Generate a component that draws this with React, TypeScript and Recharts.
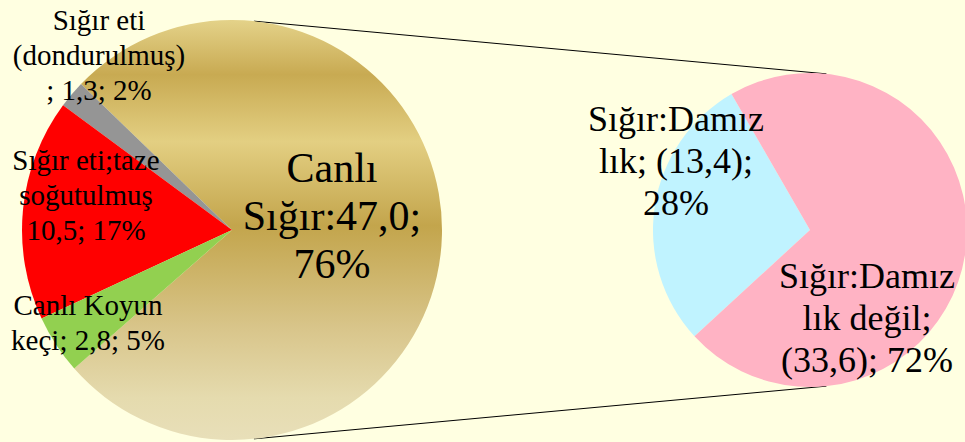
import React from 'react';
import { PieChart, Pie, Cell, Customized } from 'recharts';

// Left pie: cattle & small ruminant imports
const mainNames = ['Canlı Sığır', 'Sığır eti (dondurulmuş)', 'Sığır eti;taze soğutulmuş', 'Canlı Koyun keçi'];
const mainValues = [47.0, 1.3, 10.5, 2.8];
const mainLabels = [
  ['Canlı', 'Sığır:47,0;', '76%'],
  ['Sığır eti', '(dondurulmuş)', '; 1,3; 2%'],
  ['Sığır eti;taze', 'soğutulmuş', '10,5; 17%'],
  ['Canlı Koyun', 'keçi; 2,8; 5%']
];

// Right pie: breakdown of live cattle
const subNames = ['Sığır:Damızlık', 'Sığır:Damızlık değil'];
const subValues = [13.4, 33.6];
const subLabels = [
  ['Sığır:Damız', 'lık; (13,4);', '28%'],
  ['Sığır:Damız', 'lık değil;', '(33,6); 72%']
];

const mainData = mainNames.map((name, i) => ({ name, value: mainValues[i], lines: mainLabels[i] }));
const subData = subNames.map((name, i) => ({ name, value: subValues[i], lines: subLabels[i] }));

const W = 965;
const H = 442;
const BG = '#FFFFE1';
const FONT = '"Liberation Serif", "Times New Roman", serif';

const LEFT = { cx: 232, cy: 230, r: 210 };
const RIGHT = { cx: 810, cy: 230, r: 157 };

const mainColors = ['url(#goldFill)', '#959595', '#FF0000', '#92D050'];
const subColors = ['#C0F3FF', '#FFB3C4'];

// label placement relative to pie centre (middle baseline), font size, line height
const mainLabelStyle = [
  { dx: 100, dy: 0, size: 42, lh: 48 },
  { dx: -133, dy: -165, size: 29, lh: 35 },
  { dx: -146, dy: -25, size: 29, lh: 35 },
  { dx: -144, dy: 102, size: 29, lh: 35 }
];
const subLabelStyle = [
  { dx: -134, dy: -57, size: 36, lh: 42 },
  { dx: 57, dy: 100, size: 36, lh: 42 }
];

const makeLabel = (styles: typeof mainLabelStyle) => (props: any) => {
  const { cx, cy, index, payload } = props;
  const s = styles[index];
  const lines: string[] = payload.lines ?? payload.payload?.lines ?? [];
  const x = cx + s.dx;
  const y = cy + s.dy;
  const firstDy = -((lines.length - 1) / 2) * s.lh;
  return (
    <text
      x={x}
      y={y}
      textAnchor="middle"
      fill="#000"
      style={{ fontFamily: FONT, fontSize: s.size }}
    >
      {lines.map((line, i) => (
        <tspan key={i} x={x} dy={i === 0 ? firstDy : s.lh} style={{ fontFamily: FONT }}>
          {line}
        </tspan>
      ))}
    </text>
  );
};

const ConnectorLines = () => {
  const a = (84 * Math.PI) / 180;
  const pt = (c: typeof LEFT, sign: number) => ({
    x: c.cx + c.r * Math.cos(a),
    y: c.cy - sign * c.r * Math.sin(a)
  });
  const lt = pt(LEFT, 1);
  const lb = pt(LEFT, -1);
  const rt = pt(RIGHT, 1);
  const rb = pt(RIGHT, -1);
  return (
    <g>
      <line x1={lt.x} y1={lt.y} x2={rt.x} y2={rt.y} stroke="#000" strokeWidth={1} />
      <line x1={lb.x} y1={lb.y} x2={rb.x} y2={rb.y} stroke="#000" strokeWidth={1} />
    </g>
  );
};

const App: React.FC = () => {
  return (
    <div style={{ width: W, height: H, background: BG, fontFamily: FONT }}>
      <style>{'body{margin:0}'}</style>
      <PieChart width={W} height={H} margin={{ top: 0, right: 0, bottom: 0, left: 0 }}>
        <defs>
          <linearGradient id="goldFill" x1="0" y1="0" x2="0" y2="1">
            <stop offset="0%" stopColor="#E4D289" />
            <stop offset="13%" stopColor="#C8AA52" />
            <stop offset="29%" stopColor="#E3CF82" />
            <stop offset="49%" stopColor="#C3A54C" />
            <stop offset="74%" stopColor="#D9C68C" />
            <stop offset="90%" stopColor="#E5DBAE" />
            <stop offset="100%" stopColor="#E8DFB9" />
          </linearGradient>
        </defs>
        <Customized component={ConnectorLines} />
        <Pie
          data={mainData}
          dataKey="value"
          nameKey="name"
          cx={LEFT.cx}
          cy={LEFT.cy}
          outerRadius={LEFT.r}
          startAngle={-138.7}
          endAngle={221.3}
          stroke="none"
          labelLine={false}
          label={makeLabel(mainLabelStyle)}
          isAnimationActive={false}
        >
          {mainData.map((d, i) => (
            <Cell key={d.name} fill={mainColors[i]} />
          ))}
        </Pie>
        <Pie
          data={subData}
          dataKey="value"
          nameKey="name"
          cx={RIGHT.cx}
          cy={RIGHT.cy}
          outerRadius={RIGHT.r}
          startAngle={120}
          endAngle={480}
          stroke="none"
          labelLine={false}
          label={makeLabel(subLabelStyle)}
          isAnimationActive={false}
        >
          {subData.map((d, i) => (
            <Cell key={d.name} fill={subColors[i]} />
          ))}
        </Pie>
      </PieChart>
    </div>
  );
};

export default App;
